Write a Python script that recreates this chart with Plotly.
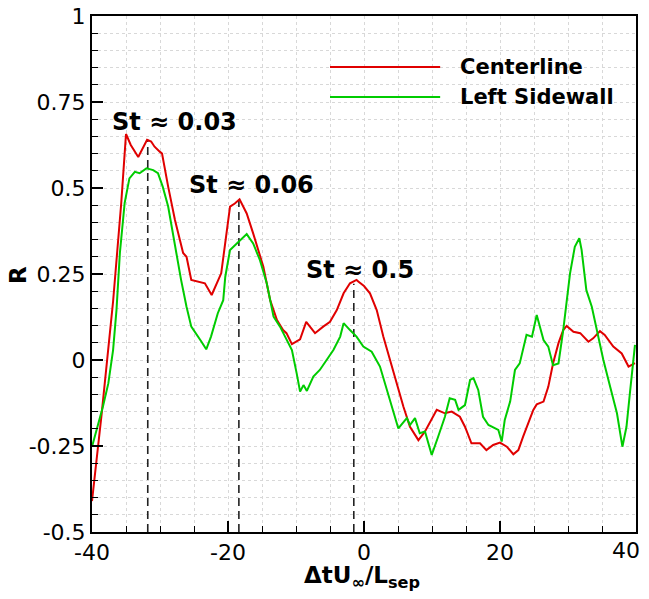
import plotly.graph_objects as go

# Centerline correlation curve (red)
red_x = [-40, -38.6, -36.9, -35.7, -35.0, -34.3, -33.2, -32.5, -31.9, -31.3, -30.8, -30.0,
         -29.7, -28.8, -27.8, -26.6, -26.1, -25.4, -24.4, -23.4, -22.4, -21.0, -19.7, -19.0,
         -18.3, -17.25, -16.3, -14.8, -13.8, -12.8, -11.9, -11.4, -10.6, -9.4, -8.5, -7.2,
         -6.0, -5.0, -4.0, -3.0, -2.06, -1.1, -0.84, 0.0, 0.88, 1.87, 2.84, 3.8, 4.8, 5.8,
         6.76, 8.0, 8.97, 9.96, 10.7, 11.9, 12.9, 14.1, 14.85, 15.8, 17.06, 18.0, 19.0, 20.0,
         21.0, 21.96, 22.7, 23.4, 24.9, 25.4, 26.4, 27.1, 27.8, 28.6, 29.3, 29.8, 30.8, 31.8,
         33.0, 33.7, 34.7, 35.4, 36.66, 37.9, 38.9, 39.85]
red_y = [-0.41, -0.16, 0.17, 0.456, 0.657, 0.625, 0.59, 0.615, 0.64, 0.635, 0.62, 0.605,
         0.60, 0.504, 0.407, 0.311, 0.30, 0.233, 0.228, 0.223, 0.189, 0.252, 0.446, 0.455,
         0.467, 0.426, 0.368, 0.271, 0.174, 0.116, 0.087, 0.078, 0.046, 0.06, 0.111, 0.078,
         0.097, 0.111, 0.145, 0.194, 0.223, 0.233, 0.228, 0.215, 0.194, 0.145, 0.068, 0.0,
         -0.068, -0.136, -0.194, -0.233, -0.208, -0.174, -0.145, -0.155, -0.150, -0.165,
         -0.194, -0.242, -0.242, -0.262, -0.247, -0.24, -0.252, -0.274, -0.262, -0.223,
         -0.145, -0.129, -0.121, -0.078, -0.01, 0.049, 0.087, 0.099, 0.082, 0.078, 0.053,
         0.063, 0.084, 0.073, 0.039, 0.019, -0.019, -0.009]

# Left sidewall correlation curve (green)
green_x = [-40, -38.4, -37.6, -36.9, -36.4, -35.9, -35.2, -34.5, -33.7, -33.0, -32.0, -31.0,
           -30.3, -29.6, -28.8, -27.8, -26.9, -26.1, -25.4, -23.9, -23.2, -22.5, -21.5, -20.7,
           -20.4, -19.7, -18.7, -18.0, -17.25, -16.3, -15.3, -14.3, -13.3, -12.35, -11.4,
           -10.6, -9.9, -9.4, -8.9, -8.4, -7.45, -6.5, -5.5, -4.5, -3.5, -3.0, -2.06, -1.1,
           -0.1, 1.13, 2.35, 3.8, 5.05, 6.3, 6.76, 7.5, 8.2, 8.97, 9.96, 10.9, 11.9, 12.6,
           13.4, 13.9, 14.85, 15.6, 16.1, 16.8, 17.5, 18.3, 19.3, 19.75, 20.25, 20.7, 21.5,
           22.2, 22.9, 23.9, 24.7, 25.4, 26.4, 27.1, 27.8, 28.6, 29.3, 30.3, 31.0, 31.66,
           32.0, 32.7, 33.5, 34.2, 35.2, 36.2, 37.2, 38.0, 38.6, 39.1, 39.6, 39.85]
green_y = [-0.252, -0.136, -0.068, 0.029, 0.145, 0.311, 0.456, 0.528, 0.547, 0.543, 0.557,
           0.552, 0.543, 0.504, 0.446, 0.329, 0.233, 0.155, 0.097, 0.053, 0.031, 0.068, 0.136,
           0.174, 0.242, 0.32, 0.339, 0.354, 0.366, 0.339, 0.29, 0.223, 0.126, 0.097, 0.058,
           0.029, -0.039, -0.092, -0.073, -0.09, -0.048, -0.029, 0.0, 0.029, 0.068, 0.107,
           0.087, 0.068, 0.039, 0.024, -0.019, -0.116, -0.199, -0.169, -0.189, -0.169, -0.213,
           -0.208, -0.276, -0.223, -0.165, -0.111, -0.116, -0.145, -0.131, -0.058, -0.053,
           -0.087, -0.165, -0.189, -0.199, -0.203, -0.237, -0.174, -0.12, -0.029, -0.01,
           0.073, 0.068, 0.131, 0.058, 0.039, -0.015, -0.01, 0.087, 0.252, 0.329, 0.354, 0.32,
           0.203, 0.155, 0.087, 0.0, -0.078, -0.155, -0.252, -0.194, -0.097, 0.0, 0.044]

# Strouhal peak markers
peak_x = [-31.8, -18.4, -1.5]
peak_top = [0.64, 0.465, 0.222]
label_x = [-27.9, -16.6, -0.6]
label_y = [0.692, 0.509, 0.262]
labels = ["St ≈ 0.03", "St ≈ 0.06", "St ≈ 0.5"]

x_ticks = [-40, -20, 0, 20, 40]

assert len(red_x) == len(red_y) and len(green_x) == len(green_y)

FONT = "DejaVu Sans, Liberation Sans, sans-serif"
RED = "#e00000"
GREEN = "#00cc00"

fig = go.Figure()

for px, top in zip(peak_x, peak_top):
    fig.add_trace(go.Scatter(x=[px, px], y=[-0.5, top], mode="lines",
                             line=dict(color="#222222", width=1.6, dash="8px,5px"),
                             showlegend=False, hoverinfo="skip"))

fig.add_trace(go.Scatter(x=red_x, y=red_y, mode="lines", name="Centerline",
                         line=dict(color=RED, width=2)))
fig.add_trace(go.Scatter(x=green_x, y=green_y, mode="lines", name="Left Sidewall",
                         line=dict(color=GREEN, width=2)))

for lx, ly, txt in zip(label_x, label_y, labels):
    fig.add_annotation(x=lx, y=ly, text=f"<b>{txt}</b>", showarrow=False,
                       font=dict(size=24, color="black", family=FONT))

# hand-drawn legend (long line samples as in the original)
for yy, col, name in [(0.901, RED, "Centerline"), (0.843, GREEN, "Left Sidewall")]:
    fig.add_shape(type="line", xref="paper", yref="paper", x0=0.4375, x1=0.64,
                  y0=yy, y1=yy, line=dict(color=col, width=2))
    fig.add_annotation(xref="paper", yref="paper", x=0.672, y=yy,
                       xanchor="left", yanchor="middle",
                       text=f"<b>{name}</b>", showarrow=False,
                       font=dict(size=21, color="black", family=FONT))

# last x tick label sits at the window edge; draw it right-anchored so it is not clipped
fig.add_annotation(x=x_ticks[-1], xref="x", yref="paper", y=-0.035,
                   xanchor="right", yanchor="middle", xshift=6,
                   text=str(x_ticks[-1]), showarrow=False,
                   font=dict(size=22, color="black", family=FONT))

# axis titles
fig.add_annotation(xref="paper", yref="paper", x=0.496, y=-0.088,
                   xanchor="center", yanchor="middle",
                   text="<b>ΔtU<sub>∞</sub>/L<sub>sep</sub></b>", showarrow=False,
                   font=dict(size=23, color="black", family=FONT))
fig.add_annotation(xref="paper", yref="paper", x=-0.136, y=0.498, textangle=-90,
                   xanchor="center", yanchor="middle",
                   text="<b>R</b>", showarrow=False,
                   font=dict(size=23, color="black", family=FONT))

grid = dict(gridcolor="#d8d8d8", griddash="dot", gridwidth=1)

fig.update_xaxes(range=[-40, 40], tickmode="array", tickvals=x_ticks,
                 ticktext=[str(t) for t in x_ticks[:-1]] + [""], automargin=False,
                 ticks="inside", ticklen=11, tickwidth=2, tickcolor="black",
                 ticklabeloverflow="allow",
                 showline=True, linecolor="black", linewidth=2, mirror=True,
                 zeroline=False, showgrid=True, **grid,
                 minor=dict(dtick=5, tick0=-40, ticks="inside", ticklen=6, tickwidth=1,
                            tickcolor="black", showgrid=True, **grid),
                 tickfont=dict(size=22, color="black", family=FONT))
fig.update_yaxes(range=[-0.5, 1], tickmode="array", automargin=False,
                 tickvals=[-0.5, -0.25, 0, 0.25, 0.5, 0.75, 1],
                 ticktext=["-0.5", "-0.25", "0", "0.25", "0.5", "0.75", "1"],
                 ticks="inside", ticklen=11, tickwidth=2, tickcolor="black",
                 ticklabeloverflow="allow",
                 showline=True, linecolor="black", linewidth=2, mirror=True,
                 zeroline=False, showgrid=True, **grid,
                 minor=dict(dtick=0.05, tick0=0, ticks="inside", ticklen=6, tickwidth=1,
                            tickcolor="black", showgrid=True, **grid),
                 tickfont=dict(size=22, color="black", family=FONT))

# the page body adds an 8px margin all round, so the figure is sized to fit the window
fig.update_layout(width=641, height=583, showlegend=False,
                  margin=dict(l=84, r=13, t=8, b=59),
                  plot_bgcolor="white", paper_bgcolor="white",
                  font=dict(family=FONT, color="black"))

fig.write_html("out.html")
